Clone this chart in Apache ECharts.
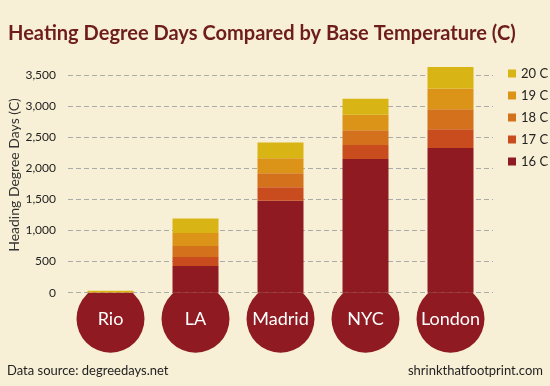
<!DOCTYPE html>
<html><head><meta charset="utf-8">
<script src="https://cdn.jsdelivr.net/npm/echarts@6/dist/echarts.min.js"></script>
<style>html,body{margin:0;padding:0;background:#f8f0d6}#c{width:550px;height:386px}</style>
</head><body><div id="c"></div>
<script>
const cities = ['Rio', 'LA', 'Madrid', 'NYC', 'London'];
const seriesNames = ['16 C', '17 C', '18 C', '19 C', '20 C'];
const hdd16 = [0, 430, 1477, 2150, 2328];
const hdd17 = [1, 143, 220, 225, 300];
const hdd18 = [2, 177, 224, 235, 321];
const hdd19 = [5, 208, 241, 252, 332];
const hdd20 = [22, 236, 252, 257, 347];
const yTicks = [0, 500, 1000, 1500, 2000, 2500, 3000, 3500];
const colors = ['#8f1a21', '#c84c1e', '#d4711c', '#db9418', '#d8b414'];
const FONT = 'Lato';

const values = [hdd16, hdd17, hdd18, hdd19, hdd20];
const chart = echarts.init(document.getElementById('c'));
const barSeries = seriesNames.map((n, i) => ({
  name: n, type: 'bar', stack: 'hdd', data: values[i], barWidth: 46,
  itemStyle: { color: colors[i] }, clip: false, z: 3
}));
chart.setOption({
  backgroundColor: '#f8f0d6',
  animation: false,
  grid: { left: 68, right: 57, top: 75, bottom: 93.3, containLabel: false, outerBoundsMode: 'none' },
  legend: {
    data: seriesNames.slice().reverse(),
    orient: 'vertical', left: 508, top: 67, padding: 0,
    itemWidth: 8, itemHeight: 8, itemGap: 9, icon: 'rect',
    textStyle: { fontFamily: FONT, fontSize: 13, color: '#222' }
  },
  xAxis: {
    type: 'category', data: cities,
    axisLine: { show: false }, axisTick: { show: false }, axisLabel: { show: false }
  },
  yAxis: {
    type: 'value', min: yTicks[0], max: yTicks[yTicks.length - 1], interval: 500,
    axisLine: { show: false }, axisTick: { show: false },
    axisLabel: { fontFamily: FONT, fontSize: 12, color: '#222', margin: 12,
      formatter: v => v.toLocaleString('en-US') },
    splitLine: { lineStyle: { color: '#aaa', type: [5, 3], width: 1 } }
  },
  series: [
    {
      type: 'custom', data: cities.map((c, i) => [i, 0]), clip: false, z: 2, silent: true,
      renderItem: (params, api) => {
        const p = api.coord([api.value(0), api.value(1)]);
        const cy = p[1] + 26;
        return {
          type: 'group',
          children: [
            { type: 'circle', shape: { cx: p[0], cy: cy, r: 34 },
              style: { fill: '#8f1a21' },
              clipPath: { type: 'rect', shape: { x: p[0] - 40, y: p[1], width: 80, height: 80 } } },
            { type: 'text', x: p[0], y: cy,
              style: { text: cities[params.dataIndex], fontFamily: FONT, fontSize: 18, fill: '#fff',
                align: 'center', verticalAlign: 'middle' } }
          ]
        };
      }
    },
    ...barSeries
  ],
  graphic: [
    { type: 'text', x: 8, y: 33, scaleX: 0.955,
      style: { text: 'Heating Degree Days Compared by Base Temperature (C)', fontFamily: FONT,
        fontSize: 21, fontWeight: 'bold', fill: '#6e1d1d', textVerticalAlign: 'middle' } },
    { type: 'text', x: 14, y: 175, rotation: Math.PI / 2,
      style: { text: 'Heading Degree Days (C)', fontFamily: FONT, fontSize: 14, fill: '#333',
        textAlign: 'center', textVerticalAlign: 'middle' } },
    { type: 'text', left: 7, top: 364, style: { text: 'Data source: degreedays.net', fontFamily: FONT, fontSize: 13, fill: '#222' } },
    { type: 'text', right: 7, top: 364, style: { text: 'shrinkthatfootprint.com', fontFamily: FONT, fontSize: 13, fill: '#222' } }
  ]
});
</script></body></html>
